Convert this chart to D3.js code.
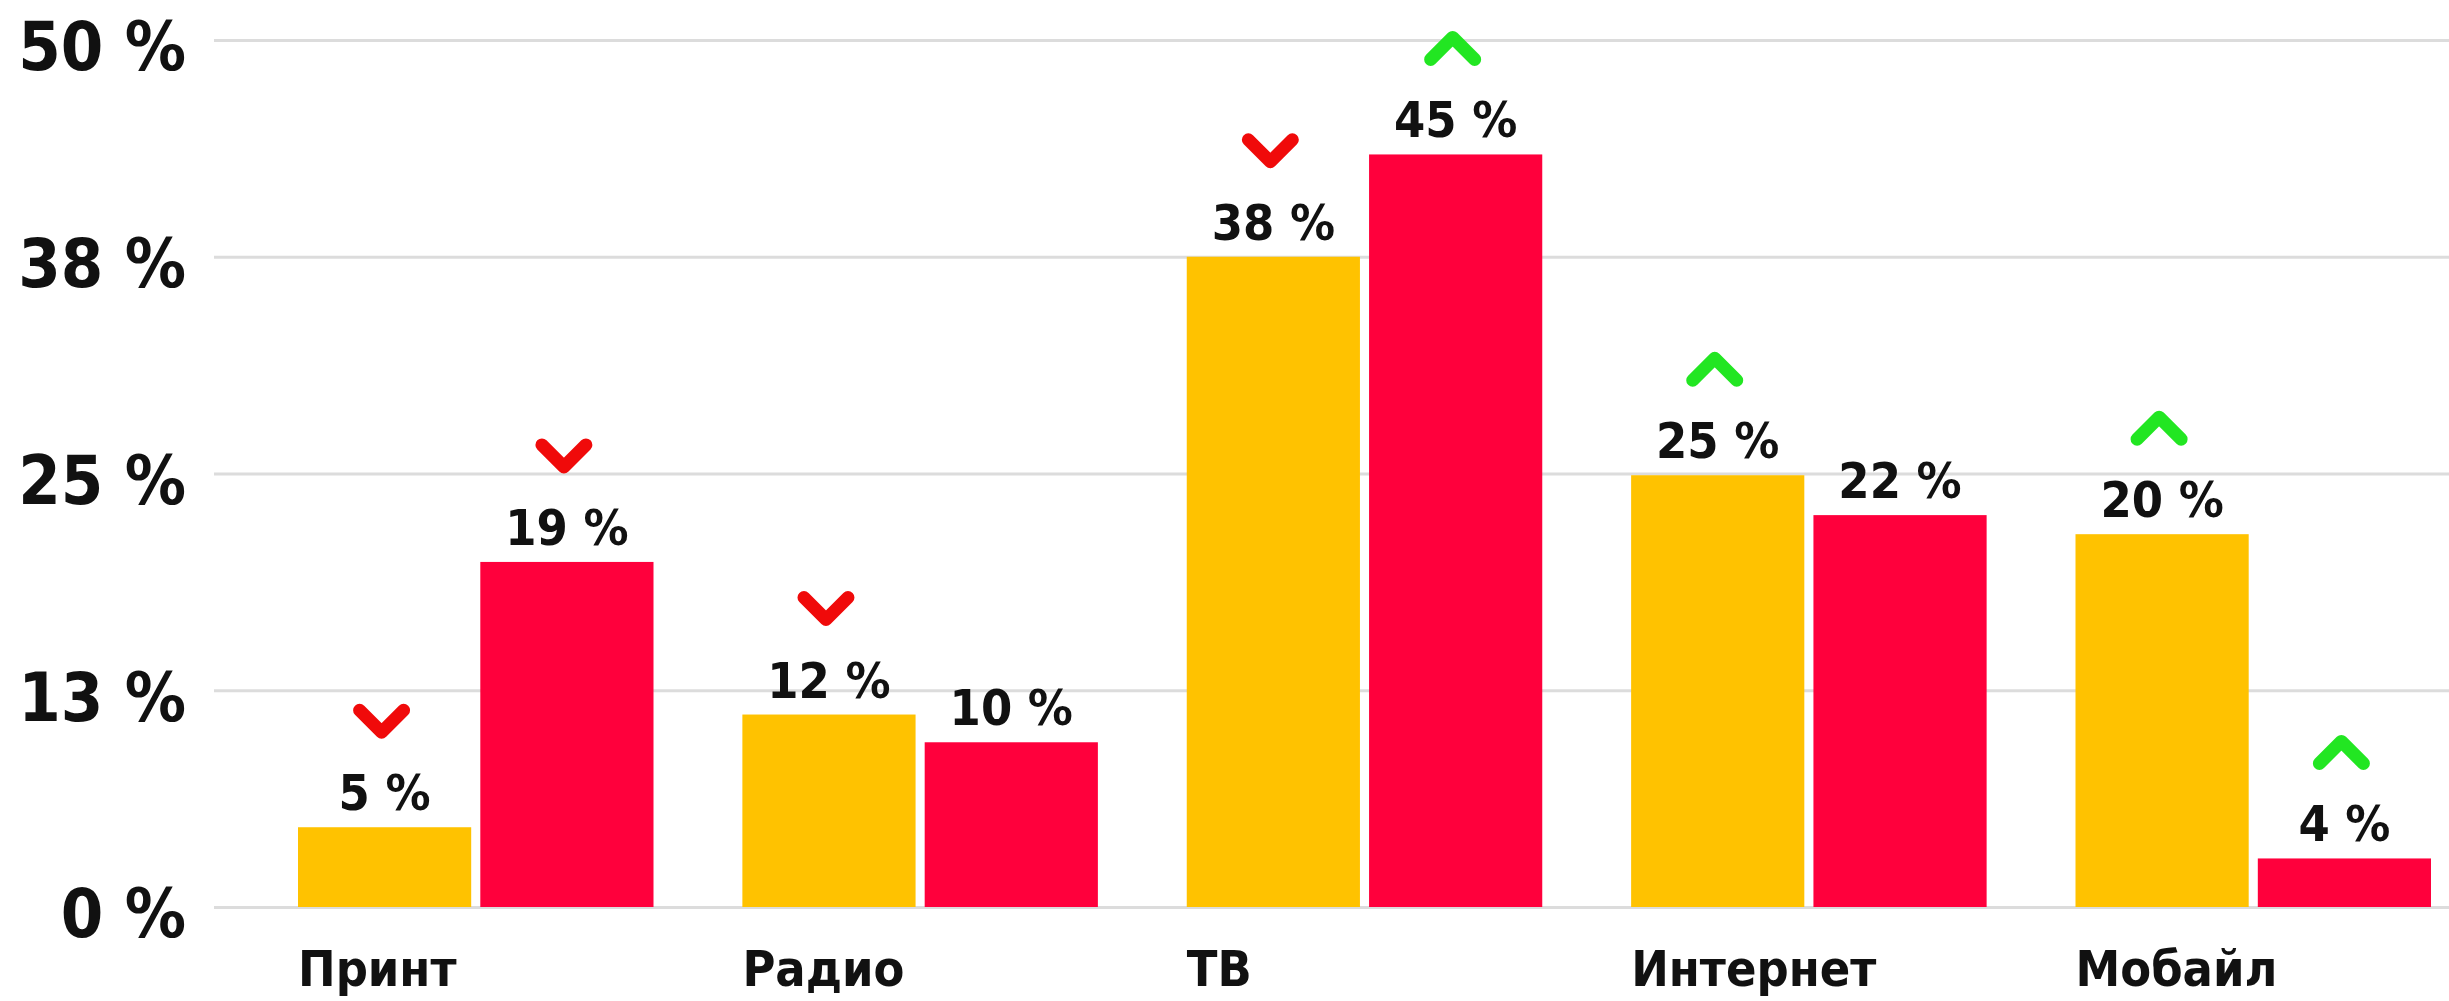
<!DOCTYPE html>
<html><head><meta charset="utf-8">
<script src="https://cdn.jsdelivr.net/npm/d3@7"></script>
<style>
html,body{margin:0;padding:0;background:#fff;}
svg{display:block;}
text{font-family:"DejaVu Sans Condensed","DejaVu Sans",sans-serif;font-weight:bold;font-stretch:condensed;fill:#111;}
</style></head><body>
<svg id="chart" width="2449" height="1001"></svg>
<script>
// ---- data ----
const categories = ["Принт", "Радио", "ТВ", "Интернет", "Мобайл"];
const seriesKeys = ["yellow", "red"];
const yellowValues = [4.6, 11.1, 37.5, 24.9, 21.5];
const redValues = [19.9, 9.5, 43.4, 22.6, 2.8];
const yellowLabels = ["5 %", "12 %", "38 %", "25 %", "20 %"];
const redLabels = ["19 %", "10 %", "45 %", "22 %", "4 %"];
const yellowTrend = ["down", "down", "down", "up", "up"];
const redTrend = ["down", null, "up", null, "up"];
const yTickValues = [0, 12.5, 25, 37.5, 50];
const yTickLabels = ["0 %", "13 %", "25 %", "38 %", "50 %"];

// ---- setup ----
const W = 2449, H = 1001;
const colors = {yellow: "#FFC200", red: "#FF003C"};
const trendColors = {down: "#F00A0A", up: "#22E622"};
const svg = d3.select("#chart");

const y = d3.scaleLinear().domain([0, 50]).range([907, 40]);
const x0 = d3.scaleBand().domain(categories).range([298, 2431]).paddingInner(0.2).paddingOuter(0);
const x1 = d3.scaleBand().domain(seriesKeys).range([0, x0.bandwidth()]).paddingInner(0.05);

// grid + y labels
const gridLeft = 214;
const yAxis = d3.axisLeft(y)
  .tickValues(yTickValues)
  .tickSize(-(W - gridLeft))
  .tickPadding(28)
  .tickFormat((d, i) => yTickLabels[i]);
const gy = svg.append("g").attr("transform", `translate(${gridLeft},0)`).call(yAxis);
gy.select(".domain").remove();
gy.selectAll(".tick line").attr("stroke", "#dcdcdc").attr("stroke-width", 3);
gy.selectAll(".tick text")
  .attr("font-size", 68)
  .attr("dy", "0.44em")
  .attr("fill", "#111");
gy.attr("font-family", null).attr("font-size", null);

// rows
const rows = categories.map((c, i) => ({
  cat: c,
  items: [
    {key: "yellow", value: yellowValues[i], label: yellowLabels[i], trend: yellowTrend[i]},
    {key: "red", value: redValues[i], label: redLabels[i], trend: redTrend[i]}
  ]
}));

const groups = svg.append("g").selectAll("g.grp").data(rows).join("g")
  .attr("class", "grp")
  .attr("transform", d => `translate(${x0(d.cat)},0)`);

groups.selectAll("rect").data(d => d.items).join("rect")
  .attr("x", d => x1(d.key))
  .attr("width", x1.bandwidth())
  .attr("y", d => y(d.value))
  .attr("height", d => y(0) - y(d.value))
  .attr("fill", d => colors[d.key]);

groups.selectAll("text.val").data(d => d.items).join("text")
  .attr("class", "val")
  .attr("x", d => x1(d.key) + x1.bandwidth() / 2)
  .attr("y", d => y(d.value) - 17)
  .attr("text-anchor", "middle")
  .attr("font-size", 50)
  .text(d => d.label);

const chevW = 22, chevH = 11;
groups.selectAll("path.trend").data(d => d.items.filter(it => it.trend)).join("path")
  .attr("class", "trend")
  .attr("transform", d => `translate(${x1(d.key) + x1.bandwidth() / 2 - 3},${y(d.value) - 106})`)
  .attr("d", d => d.trend === "down"
    ? `M${-chevW},${-chevH} L0,${chevH} L${chevW},${-chevH}`
    : `M${-chevW},${chevH} L0,${-chevH} L${chevW},${chevH}`)
  .attr("fill", "none")
  .attr("stroke", d => trendColors[d.trend])
  .attr("stroke-width", 13)
  .attr("stroke-linecap", "round")
  .attr("stroke-linejoin", "round");

// category labels
svg.append("g").selectAll("text").data(categories).join("text")
  .attr("x", d => x0(d))
  .attr("y", 986)
  .attr("font-size", 50)
  .attr("text-anchor", "start")
  .text(d => d);
</script>
</body></html>
